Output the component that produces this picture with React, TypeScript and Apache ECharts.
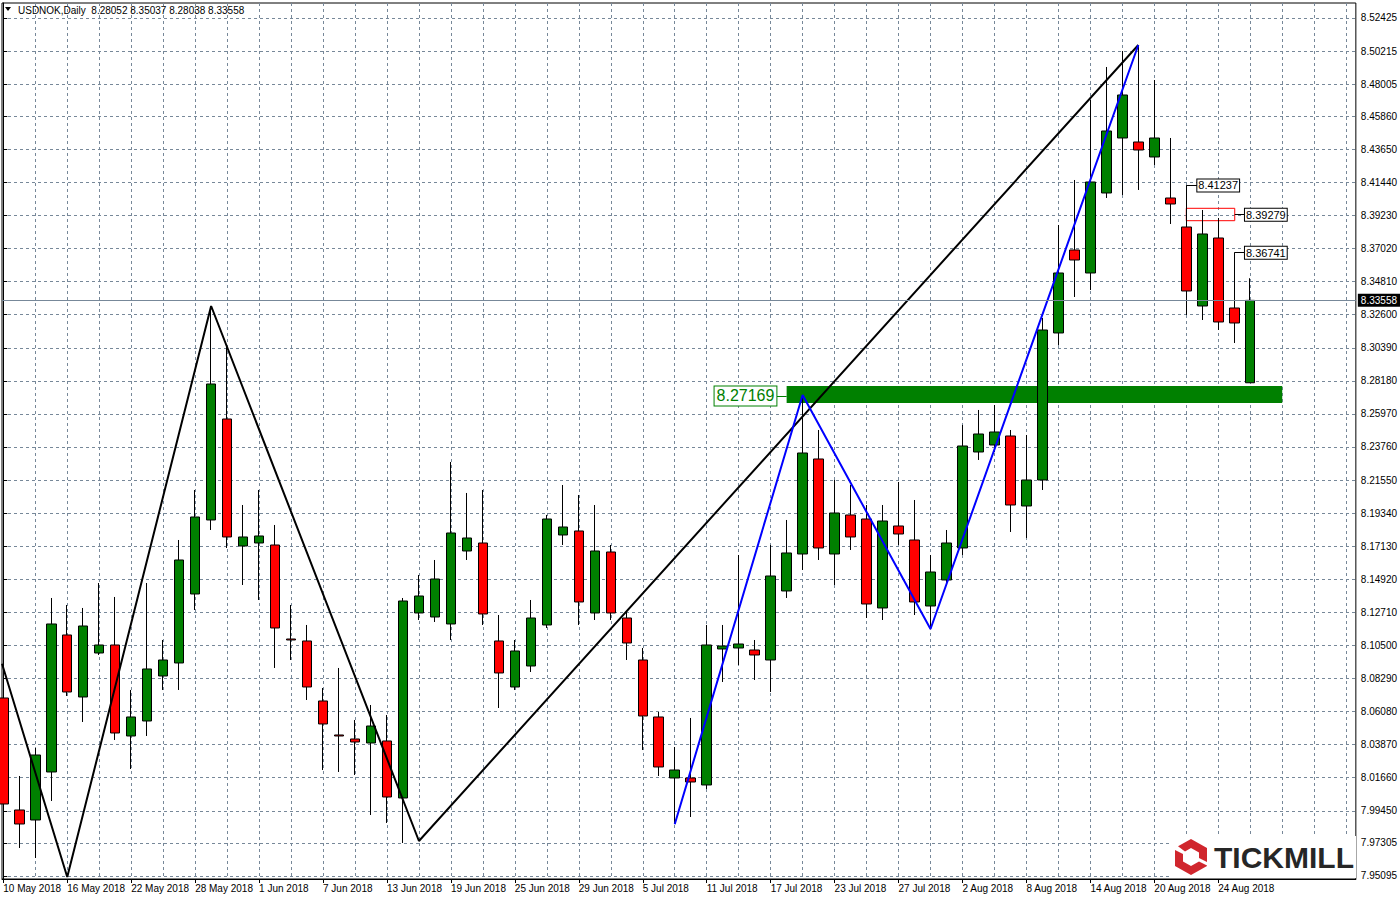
import React, { useEffect, useRef } from "react";
import * as echarts from "echarts";

const dates = [
  "10 May 2018", "11 May 2018", "14 May 2018", "15 May 2018", "16 May 2018", "17 May 2018", "18 May 2018",
  "21 May 2018", "22 May 2018", "23 May 2018", "24 May 2018", "25 May 2018", "28 May 2018", "29 May 2018",
  "30 May 2018", "31 May 2018",
  "1 Jun 2018", "4 Jun 2018", "5 Jun 2018", "6 Jun 2018", "7 Jun 2018", "8 Jun 2018", "11 Jun 2018",
  "12 Jun 2018", "13 Jun 2018", "14 Jun 2018", "15 Jun 2018", "18 Jun 2018", "19 Jun 2018", "20 Jun 2018",
  "21 Jun 2018", "22 Jun 2018", "25 Jun 2018", "26 Jun 2018", "27 Jun 2018", "28 Jun 2018", "29 Jun 2018",
  "2 Jul 2018", "3 Jul 2018", "4 Jul 2018", "5 Jul 2018", "6 Jul 2018", "9 Jul 2018", "10 Jul 2018",
  "11 Jul 2018", "12 Jul 2018", "13 Jul 2018", "16 Jul 2018", "17 Jul 2018", "18 Jul 2018", "19 Jul 2018",
  "20 Jul 2018", "23 Jul 2018", "24 Jul 2018", "25 Jul 2018", "26 Jul 2018", "27 Jul 2018", "30 Jul 2018",
  "31 Jul 2018",
  "1 Aug 2018", "2 Aug 2018", "3 Aug 2018", "6 Aug 2018", "7 Aug 2018", "8 Aug 2018", "9 Aug 2018",
  "10 Aug 2018", "13 Aug 2018", "14 Aug 2018", "15 Aug 2018", "16 Aug 2018", "17 Aug 2018", "20 Aug 2018",
  "21 Aug 2018", "22 Aug 2018", "23 Aug 2018", "24 Aug 2018", "27 Aug 2018", "28 Aug 2018",
];

const opens = [
  8.06989, 7.99505, 7.98837, 8.02045, 8.11199, 8.07056, 8.09996, 8.1053, 8.0445, 8.05452,
  8.08459, 8.09328, 8.13938, 8.18883, 8.25631, 8.17145, 8.17346, 8.17212, 8.10931, 8.10798,
  8.06789, 8.04517, 8.0425, 8.03982, 8.04116, 8.00307, 8.12669, 8.12401, 8.11934, 8.16811,
  8.17346, 8.10798, 8.07724, 8.09127, 8.11867, 8.1788, 8.18148, 8.12669, 8.16744, 8.12334,
  8.09528, 8.0572, 8.01644, 8.01644, 8.01176, 8.10263, 8.1033, 8.10196, 8.09528, 8.14139,
  8.16611, 8.22959, 8.16611, 8.19217, 8.18949, 8.13003, 8.18482, 8.17546, 8.13136, 8.14874,
  8.17012, 8.23426, 8.23894, 8.24495, 8.19818, 8.21555, 8.31378, 8.36923, 8.35387, 8.40732,
  8.44407, 8.4414, 8.43138, 8.40398, 8.3846, 8.33182, 8.37725, 8.33048, 8.28052,
];
const highs = [
  8.08192, 8.01777, 8.03648, 8.13671, 8.13203, 8.13003, 8.14673, 8.13738, 8.07524, 8.14673,
  8.10864, 8.17546, 8.20887, 8.33115, 8.30442, 8.19885, 8.20887, 8.18549, 8.13203, 8.11867,
  8.07657, 8.08994, 8.05519, 8.06521, 8.05853, 8.13671, 8.15208, 8.1621, 8.22758, 8.20687,
  8.20887, 8.12535, 8.10864, 8.13537, 8.19217, 8.21221, 8.20553, 8.19885, 8.17212, 8.12735,
  8.1033, 8.06054, 8.03715, 8.05653, 8.11867, 8.11867, 8.16544, 8.10864, 8.17212, 8.18883,
  8.27235, 8.24896, 8.21555, 8.21221, 8.19885, 8.19885, 8.21422, 8.20219, 8.16544, 8.18214,
  8.2523, 8.26233, 8.26567, 8.24896, 8.24562, 8.3238, 8.38594, 8.41601, 8.46946, 8.49151,
  8.5022, 8.50621, 8.48283, 8.44407, 8.41237, 8.39596, 8.39062, 8.36741, 8.35037,
];
const lows = [
  7.97835, 7.96966, 7.96298, 8.00107, 8.07123, 8.05385, 8.09862, 8.04183, 8.02245, 8.0445,
  8.07524, 8.07524, 8.12869, 8.18214, 8.17012, 8.14539, 8.13537, 8.08994, 8.09528, 8.06855,
  8.02178, 8.02045, 8.01844, 7.99171, 7.98637, 7.973, 8.12201, 8.12067, 8.10864, 8.1621,
  8.11867, 8.06321, 8.07524, 8.08726, 8.11666, 8.17212, 8.11867, 8.12201, 8.12201, 8.09528,
  8.03514, 8.01777, 7.9857, 7.99038, 8.00909, 8.08058, 8.09194, 8.08192, 8.0739, 8.13671,
  8.15542, 8.1621, 8.14539, 8.16878, 8.12334, 8.12201, 8.17212, 8.12535, 8.11599, 8.14673,
  8.16544, 8.22892, 8.23426, 8.18081, 8.1768, 8.20887, 8.30576, 8.33783, 8.34251, 8.40398,
  8.40598, 8.40933, 8.42603, 8.38661, 8.3258, 8.32246, 8.31578, 8.30709, 8.28038,
];
const closes = [
  7.99906, 7.9857, 8.0318, 8.11934, 8.0739, 8.118, 8.1053, 8.0465, 8.0572, 8.08927,
  8.09528, 8.1621, 8.19083, 8.2797, 8.17747, 8.17747, 8.17814, 8.11666, 8.10864, 8.07724,
  8.05252, 8.0445, 8.04049, 8.05118, 8.00374, 8.1347, 8.13804, 8.1494, 8.18014, 8.1768,
  8.12602, 8.0866, 8.10129, 8.12334, 8.18949, 8.18415, 8.13404, 8.16811, 8.12669, 8.10664,
  8.05786, 8.02379, 8.02178, 8.01376, 8.1053, 8.10464, 8.10597, 8.09862, 8.15141, 8.16678,
  8.23359, 8.17012, 8.1935, 8.17747, 8.1327, 8.18816, 8.17947, 8.13404, 8.15408, 8.17346,
  8.23827, 8.24629, 8.24763, 8.19885, 8.21555, 8.31578, 8.35387, 8.36255, 8.41467, 8.44875,
  8.4728, 8.43605, 8.44407, 8.39997, 8.34184, 8.37993, 8.32113, 8.32046, 8.33558,
];

const priceTicks = [
  8.52425, 8.50215, 8.48005, 8.4586, 8.4365, 8.4144, 8.3923, 8.3702, 8.3481, 8.326,
  8.3039, 8.2818, 8.2597, 8.2376, 8.2155, 8.1934, 8.1713, 8.1492, 8.1271, 8.105,
  8.0829, 8.0608, 8.0387, 8.0166, 7.9945, 7.97305, 7.95095,
];
const dateTickIndex = [0, 4, 8, 12, 16, 20, 24, 28, 32, 36, 40, 44, 48, 52, 56, 60, 64, 68, 72, 76];
const gridColumnIndex = [
  2, 4, 6, 8, 10, 12, 14, 16, 18, 20, 22, 24, 26, 28, 30, 32, 34, 36, 38, 40, 42,
  44, 46, 48, 50, 52, 54, 56, 58, 60, 62, 64, 66, 68, 70, 72, 74, 76, 78, 80, 82, 84,
];

const blackTrend = [[-0.08, 8.09274], [4, 7.95028], [13, 8.33181], [26, 7.97433], [71, 8.50621]];
const blueTrend = [[42, 7.98549], [50, 8.27234], [58, 8.11599], [71, 8.50621]];

const headerText = "USDNOK,Daily  8.28052 8.35037 8.28038 8.33558";
const lastPrice = 8.33558;
const supportLevel = 8.27169;
const supportBand = [8.27836, 8.267];
const highLevels = [8.41237, 8.39279, 8.36741];
const redBoxLevels = [8.39709, 8.38881];

const SANS = '"Liberation Sans", Arial, sans-serif';
const AXIS_FONT = 10;
const GRID_COLOR = "#778899";

const ICON_D =
  "M3 7.3L16 0L32 9L32 23L24 19L24 13.5L16 9L10 12.4Z M32 26.5L32 27L16 36L0 27L0 11L8 15L8 22.5L16 27L24 22.5Z";
echarts.graphic.registerShape("tickmillIcon", echarts.graphic.extendPath(ICON_D, {}));

const X_MIN = -0.08125;
const X_MAX = 84.60625;

const boxLabel = (text: string) => ({
  show: true,
  position: "end",
  distance: 0,
  formatter: text,
  color: "#000",
  fontSize: 11,
  fontFamily: SANS,
  lineHeight: 11,
  backgroundColor: "#fff",
  borderColor: "#000",
  borderWidth: 1,
  padding: [1, 1, 0, 1],
});

export default function App() {
  const ref = useRef<HTMLDivElement>(null);

  useEffect(() => {
    if (!ref.current) return;
    const chart = echarts.init(ref.current, null, { renderer: "svg" });
    const candleData = dates.map((_, i) => [i, opens[i], closes[i], lows[i], highs[i]]);

    const option: any = {
      animation: false,
      backgroundColor: "#fff",
      grid: {
        left: 2,
        right: 43,
        top: 3,
        bottom: 21,
        show: true,
        borderColor: "#000",
        borderWidth: 1,
        backgroundColor: "#fff",
      },
      xAxis: [
        {
          type: "value",
          min: X_MIN,
          max: X_MAX,
          position: "bottom",
          axisLine: { show: true, lineStyle: { color: "#000", width: 1 } },
          axisTick: { show: true, customValues: dateTickIndex, length: 4, lineStyle: { color: "#000" } },
          axisLabel: {
            customValues: dateTickIndex,
            formatter: (v: number) => dates[Math.round(v)] ?? "",
            align: "left",
            margin: 4,
            fontSize: AXIS_FONT,
            fontFamily: SANS,
            color: "#000",
          },
          splitLine: { show: false },
        },
        {
          type: "value",
          min: X_MIN,
          max: X_MAX,
          position: "bottom",
          axisLine: { show: false },
          axisTick: { show: false, customValues: gridColumnIndex },
          axisLabel: { show: false },
          splitLine: { show: true, lineStyle: { color: GRID_COLOR, type: [3, 3], width: 1 } },
        },
      ],
      yAxis: {
        type: "value",
        position: "right",
        min: 7.94894,
        max: 8.53427,
        axisLine: { show: true, lineStyle: { color: "#000", width: 1 } },
        axisTick: { show: true, customValues: priceTicks, length: 4, lineStyle: { color: "#000" } },
        axisLabel: {
          customValues: priceTicks,
          formatter: (v: number) => v.toFixed(5),
          margin: 5,
          fontSize: AXIS_FONT,
          fontFamily: SANS,
          color: "#000",
        },
        splitLine: { show: true, lineStyle: { color: GRID_COLOR, type: [3, 3], width: 1 } },
      },
      series: [
        {
          type: "candlestick",
          xAxisIndex: 0,
          data: candleData,
          barWidth: 10,
          silent: true,
          itemStyle: {
            color: "#008000",
            color0: "#ff0000",
            borderColor: "#000",
            borderColor0: "#000",
            borderColorDoji: "#000",
            borderWidth: 1,
          },
          markArea: {
            silent: true,
            emphasis: { disabled: true },
            data: [
              [
                { coord: [49, supportBand[0]], itemStyle: { color: "#008000", opacity: 1 } },
                { coord: [80, supportBand[1]] },
              ],
              [
                {
                  coord: [74, redBoxLevels[0]],
                  itemStyle: { color: "rgba(0,0,0,0)", borderColor: "#ff0000", borderWidth: 1 },
                },
                { coord: [77.03, redBoxLevels[1]] },
              ],
            ],
          },
          markLine: {
            silent: true,
            precision: 5,
            symbol: ["none", "none"],
            emphasis: { disabled: true },
            data: [
              {
                yAxis: lastPrice,
                lineStyle: { color: GRID_COLOR, width: 1, type: "solid" },
                label: {
                  show: true,
                  position: "end",
                  distance: 2,
                  formatter: lastPrice.toFixed(5),
                  color: "#fff",
                  backgroundColor: "#000",
                  padding: [2, 3, 1, 3],
                  fontSize: AXIS_FONT,
                  fontFamily: SANS,
                },
              },
              [
                { coord: [74, highLevels[0]], lineStyle: { color: "#000", width: 1, type: "solid" }, label: boxLabel(highLevels[0].toFixed(5)) },
                { coord: [74.69, highLevels[0]] },
              ],
              [
                { coord: [77.03, highLevels[1]], lineStyle: { color: "#000", width: 1, type: "solid" }, label: boxLabel(highLevels[1].toFixed(5)) },
                { coord: [77.67, highLevels[1]] },
              ],
              [
                { coord: [77, highLevels[2]], lineStyle: { color: "#000", width: 1, type: "solid" }, label: boxLabel(highLevels[2].toFixed(5)) },
                { coord: [77.67, highLevels[2]] },
              ],
              [
                {
                  coord: [48.36, supportLevel],
                  lineStyle: { color: "#008000", width: 1, type: "solid" },
                  label: {
                    show: true,
                    position: "start",
                    distance: 0,
                    formatter: supportLevel.toFixed(5),
                    color: "#008000",
                    fontSize: 16,
                    fontFamily: SANS,
                    lineHeight: 16,
                    backgroundColor: "#fff",
                    borderColor: "#008000",
                    borderWidth: 1,
                    padding: [2, 2, 1, 2],
                  },
                },
                { coord: [49, supportLevel] },
              ],
            ],
          },
        },
        {
          type: "line",
          xAxisIndex: 0,
          data: blackTrend,
          symbol: "none",
          silent: true,
          lineStyle: { color: "#000", width: 2 },
        },
        {
          type: "line",
          xAxisIndex: 0,
          data: blueTrend,
          symbol: "none",
          silent: true,
          lineStyle: { color: "#0000ff", width: 2 },
        },
      ],
      graphic: [
        { type: "polygon", shape: { points: [[5, 7], [11, 7], [8, 11]] }, style: { fill: "#000" }, z: 100, silent: true },
        {
          type: "text",
          x: 18,
          y: 10,
          z: 100,
          silent: true,
          style: { text: headerText, fill: "#000", fontSize: AXIS_FONT, fontFamily: SANS, verticalAlign: "middle" },
        },
        { type: "rect", shape: { x: 1172, y: 836, width: 184, height: 42 }, style: { fill: "#fff" }, z: 100, silent: true },
        { type: "tickmillIcon", x: 1175, y: 839, style: { fill: "#d0262d" }, z: 101, silent: true },
        {
          type: "text",
          x: 1214,
          y: 857,
          z: 101,
          silent: true,
          style: { text: "TICKMILL", fill: "#262626", fontSize: 30, fontWeight: "bold", fontFamily: SANS, verticalAlign: "middle" },
        },
      ],
    };

    chart.setOption(option);
    return () => chart.dispose();
  }, []);

  return <div ref={ref} style={{ position: "absolute", left: 0, top: 0, width: 1400, height: 900 }} />;
}
